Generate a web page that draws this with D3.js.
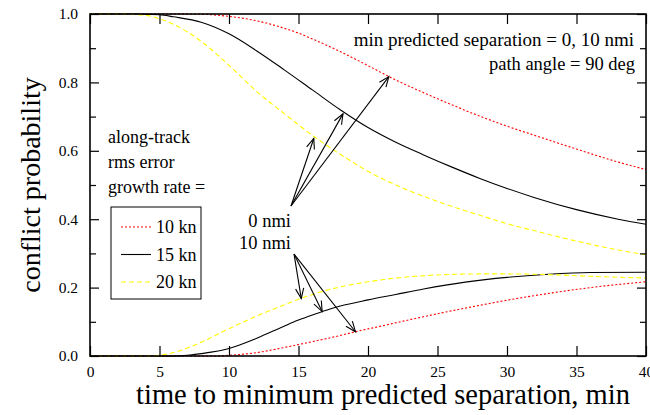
<!DOCTYPE html>
<html><head><meta charset="utf-8">
<script src="https://cdn.jsdelivr.net/npm/d3@7"></script>
<style>body{margin:0;background:#fff}svg{display:block}text{font-family:"Liberation Serif","Times New Roman",serif;fill:#000}</style>
</head><body><svg id="c" width="650" height="415"></svg>
<script>
// time (min) samples and conflict probabilities
const red0T   = [0, 5, 8, 10, 12, 14, 15, 16, 18, 20, 22, 24, 26, 28, 30, 32, 35, 38, 40];
const red0P   = [1, 1, 0.999, 0.993, 0.98, 0.958, 0.944, 0.927, 0.89, 0.849, 0.807, 0.77, 0.735, 0.702, 0.672, 0.645, 0.605, 0.567, 0.545];
const blk0T   = [0, 3, 5, 6, 8, 10, 12, 14, 16, 18, 20, 22, 24, 26, 28, 30, 32, 35, 38, 40];
const blk0P   = [1, 1, 0.998, 0.992, 0.976, 0.942, 0.892, 0.836, 0.778, 0.72, 0.668, 0.625, 0.588, 0.553, 0.52, 0.49, 0.463, 0.428, 0.4, 0.385];
const yel0T   = [0, 2, 4, 5, 6, 8, 10, 12, 14, 16, 18, 20, 22, 25, 28, 30, 32, 35, 38, 40];
const yel0P   = [1, 1, 0.996, 0.986, 0.97, 0.92, 0.85, 0.773, 0.708, 0.645, 0.59, 0.54, 0.5, 0.452, 0.412, 0.387, 0.366, 0.336, 0.31, 0.296];
const red10T  = [0, 9, 10, 12, 14, 16, 18, 19.1, 21, 24, 27, 30, 33, 36, 40];
const red10P  = [0, 0, 0.002, 0.01, 0.025, 0.042, 0.06, 0.071, 0.088, 0.115, 0.14, 0.163, 0.183, 0.2, 0.217];
const blk10T  = [0, 6, 7, 8, 10, 12, 14, 15, 16, 17, 18, 20, 22, 24, 27, 30, 33, 36, 40];
const blk10P  = [0, 0, 0.002, 0.007, 0.022, 0.052, 0.088, 0.105, 0.12, 0.134, 0.146, 0.164, 0.18, 0.196, 0.216, 0.23, 0.239, 0.244, 0.245];
const yel10T  = [0, 4, 5, 6, 8, 10, 12, 14, 15, 16, 18, 20, 22, 25, 28, 30, 33, 36, 40];
const yel10P  = [0, 0, 0.002, 0.01, 0.04, 0.08, 0.117, 0.15, 0.166, 0.18, 0.202, 0.217, 0.228, 0.237, 0.24, 0.24, 0.238, 0.233, 0.228];

const legendLabels = ["10 kn", "15 kn", "20 kn"];
const xTicks = [0, 5, 10, 15, 20, 25, 30, 35, 40];
const yTicksMajor = [0, 0.2, 0.4, 0.6, 0.8, 1.0];
const yTicksMinor = [0.1, 0.3, 0.5, 0.7, 0.9];

// arrows (data coords): origin then tips
const upperOrigin = [14.46, 0.4386];
const upperTips = [[16.1, 0.636], [18.2, 0.708], [21.5, 0.817]];
const lowerOrigin = [14.68, 0.298];
const lowerTips = [[15.2, 0.168], [16.7, 0.13], [19.1, 0.071]];

const styles = [
  {stroke: "#ff0000", dash: "2,2"},
  {stroke: "#000000", dash: null},
  {stroke: "#ffff00", dash: "5,3"}
];

const SERIF = "Liberation Serif";
const svg = d3.select("#c");
const L = 90, R = 646, T = 14, B = 356;
const x = d3.scaleLinear().domain([0, 40]).range([L, R]);
const y = d3.scaleLinear().domain([0, 1]).range([B, T]);

const series = [
  {t: red0T, p: red0P, s: 0}, {t: blk0T, p: blk0P, s: 1}, {t: yel0T, p: yel0P, s: 2},
  {t: red10T, p: red10P, s: 0}, {t: blk10T, p: blk10P, s: 1}, {t: yel10T, p: yel10P, s: 2}
];
const line = d3.line().x(d => x(d[0])).y(d => y(d[1])).curve(d3.curveMonotoneX);
svg.append("clipPath").attr("id", "clp").append("rect").attr("x", L).attr("y", T - 1).attr("width", R - L).attr("height", B - T + 2);
series.forEach(se => {
  const st = styles[se.s];
  svg.append("path").attr("clip-path", "url(#clp)")
    .attr("d", line(se.t.map((t, i) => [t, se.p[i]])))
    .attr("fill", "none").attr("stroke", st.stroke).attr("stroke-width", 1.1)
    .attr("stroke-dasharray", st.dash);
});

// axes
const gB = svg.append("g").attr("transform", `translate(0,${B})`)
  .call(d3.axisBottom(x).tickValues(xTicks).tickSizeInner(-10).tickSizeOuter(0).tickPadding(10).tickFormat(d3.format("d")));
const gT = svg.append("g").attr("transform", `translate(0,${T})`)
  .call(d3.axisTop(x).tickValues(xTicks).tickSizeInner(-10).tickSizeOuter(0).tickFormat(""));
const gL = svg.append("g").attr("transform", `translate(${L},0)`)
  .call(d3.axisLeft(y).tickValues(yTicksMajor).tickSizeInner(-9).tickSizeOuter(0).tickPadding(12).tickFormat(d3.format(".1f")));
const gLm = svg.append("g").attr("transform", `translate(${L},0)`)
  .call(d3.axisLeft(y).tickValues(yTicksMinor).tickSizeInner(-6).tickSizeOuter(0).tickFormat(""));
const gR = svg.append("g").attr("transform", `translate(${R},0)`)
  .call(d3.axisRight(y).tickValues(yTicksMajor).tickSizeInner(-9).tickSizeOuter(0).tickFormat(""));
const gRm = svg.append("g").attr("transform", `translate(${R},0)`)
  .call(d3.axisRight(y).tickValues(yTicksMinor).tickSizeInner(-6).tickSizeOuter(0).tickFormat(""));
[gB, gT, gL, gLm, gR, gRm].forEach(g => {
  g.attr("font-family", SERIF);
  g.select(".domain").remove();
  g.selectAll("line").attr("stroke", "#000").attr("stroke-width", 1.2);
  g.selectAll("text").attr("font-family", SERIF).attr("font-size", 15.5).attr("fill", "#000");
});
svg.append("rect").attr("x", L).attr("y", T).attr("width", R - L).attr("height", B - T)
  .attr("fill", "none").attr("stroke", "#000").attr("stroke-width", 1.6);

function txt(xx, yy, s, size, anchor) {
  return svg.append("text").attr("x", xx).attr("y", yy).attr("font-family", SERIF)
    .attr("font-size", size).attr("text-anchor", anchor || "start").text(s);
}

// axis titles
txt((L + R) / 2 + 15, 404, "time to minimum predicted separation, min", 28.5, "middle");
svg.append("text").attr("transform", `translate(40,${(T + B) / 2}) rotate(-90)`).attr("text-anchor", "middle")
  .attr("font-family", SERIF).attr("font-size", 28).text("conflict probability");

// annotations
txt(634, 46, "min predicted separation = 0, 10 nmi", 19, "end");
txt(635, 70, "path angle = 90 deg", 18.5, "end");
["along-track", "rms error", "growth rate ="].forEach((s, i) => txt(108, 143 + i * 25, s, 18));
txt(291, 227, "0 nmi", 18.5, "end");
txt(291, 249, "10 nmi", 18.5, "end");

// legend
svg.append("rect").attr("x", 111).attr("y", 207).attr("width", 90).attr("height", 92)
  .attr("fill", "#fff").attr("stroke", "#000").attr("stroke-width", 1);
legendLabels.forEach((lab, i) => {
  const yy = 227 + i * 27.5;
  svg.append("line").attr("x1", 121).attr("x2", 151).attr("y1", yy).attr("y2", yy)
    .attr("stroke", styles[i].stroke).attr("stroke-width", 1.1).attr("stroke-dasharray", styles[i].dash);
  txt(156, yy + 6, lab, 18);
});

// arrows
function arrow(o, tip) {
  const x0 = x(o[0]), y0 = y(o[1]), x1 = x(tip[0]), y1 = y(tip[1]);
  const ang = Math.atan2(y1 - y0, x1 - x0);
  const hl = 11, ha = 0.38;
  svg.append("line").attr("x1", x0).attr("y1", y0).attr("x2", x1).attr("y2", y1).attr("stroke", "#000").attr("stroke-width", 1.1);
  const p = `M${x1 - hl * Math.cos(ang - ha)},${y1 - hl * Math.sin(ang - ha)}L${x1},${y1}L${x1 - hl * Math.cos(ang + ha)},${y1 - hl * Math.sin(ang + ha)}`;
  svg.append("path").attr("d", p).attr("fill", "none").attr("stroke", "#000").attr("stroke-width", 1.1);
}
upperTips.forEach(t => arrow(upperOrigin, t));
lowerTips.forEach(t => arrow(lowerOrigin, t));
</script></body></html>
